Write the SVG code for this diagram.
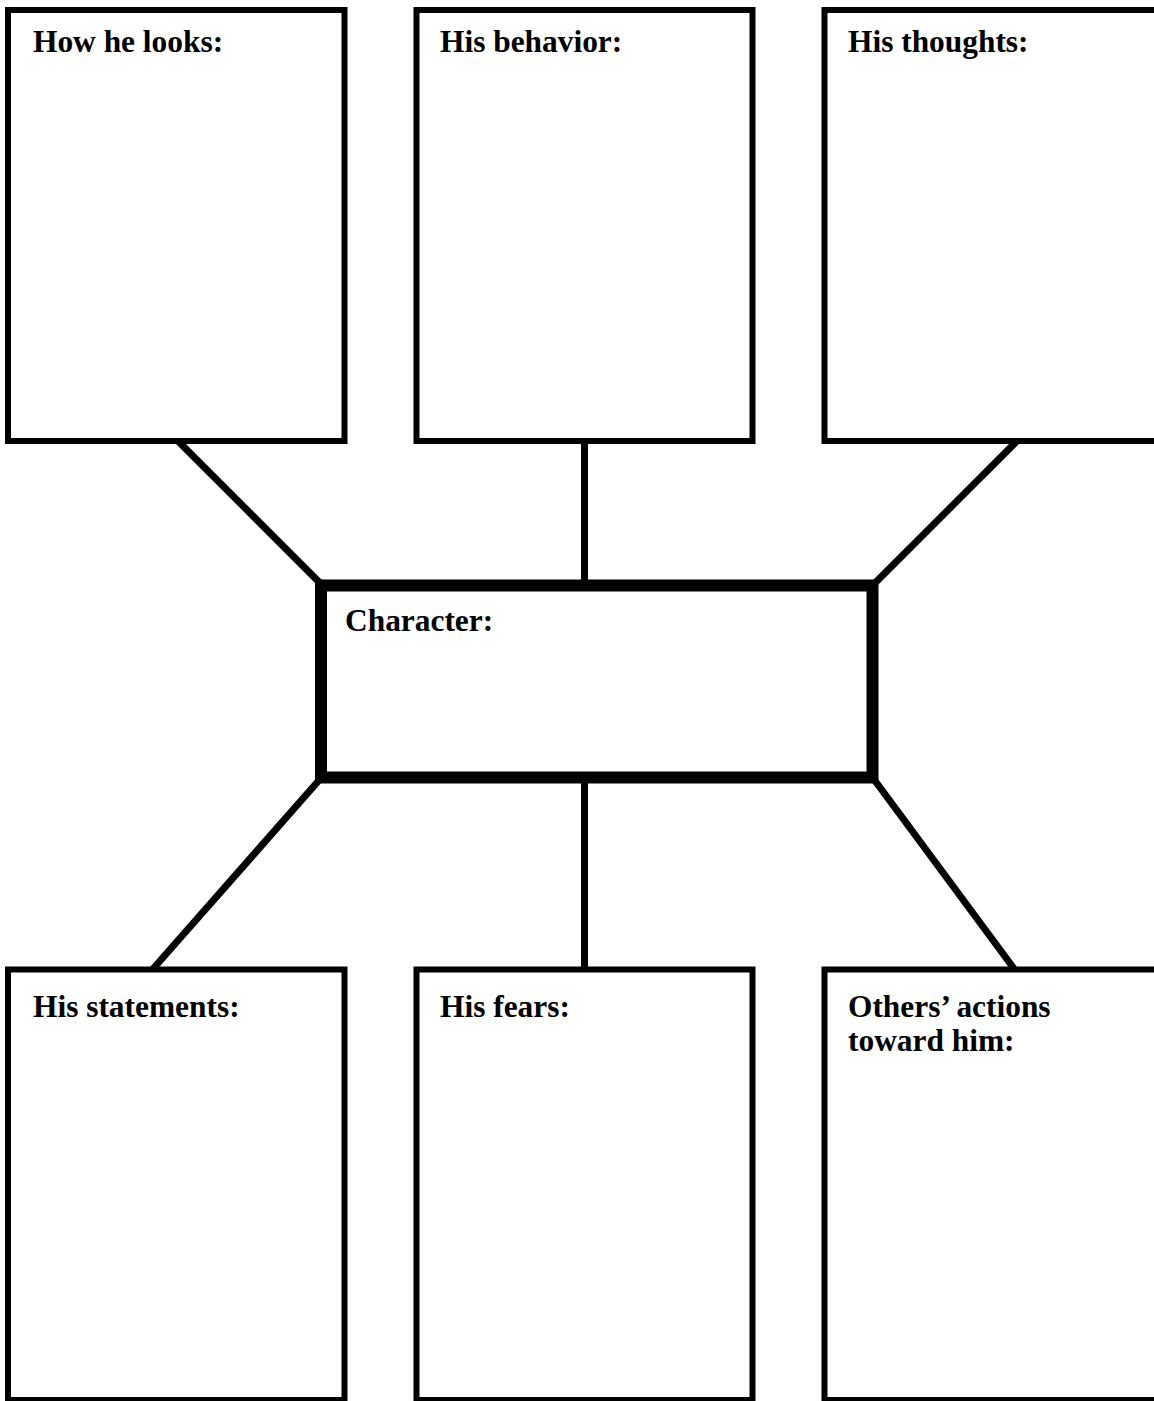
<svg xmlns="http://www.w3.org/2000/svg" width="1154" height="1401" viewBox="0 0 1154 1401">
<style>
.box{fill:#fff;stroke:#000;stroke-width:6}
.main{fill:#fff;stroke:#000;stroke-width:12}
.lbl{font-family:"Liberation Serif","Times New Roman",serif;font-weight:bold;font-size:31.4px;fill:#000}
.con line{stroke:#000;stroke-width:7;stroke-linecap:butt}
</style>
<rect width="1154" height="1401" fill="#fff"/>
<g class="con" id="connectors">
<line x1="178" y1="441" x2="322" y2="585"/>
<line x1="584.5" y1="441" x2="584.5" y2="585"/>
<line x1="1017" y1="441" x2="873" y2="585"/>
<line x1="321" y1="778" x2="152" y2="970"/>
<line x1="584.5" y1="778" x2="584.5" y2="970"/>
<line x1="873" y1="778" x2="1015" y2="970"/>
</g>
<g id="looks"><rect class="box" x="8" y="10" width="336.5" height="431"/><text class="lbl" x="33" y="52">How he looks:</text></g>
<g id="behavior"><rect class="box" x="416.5" y="10" width="336" height="431"/><text class="lbl" x="440" y="52">His behavior:</text></g>
<g id="thoughts"><rect class="box" x="824.5" y="10" width="340" height="431"/><text class="lbl" x="848" y="52">His thoughts:</text></g>
<g id="character"><rect class="main" x="321" y="585.5" width="551.5" height="192"/><text class="lbl" x="345" y="631">Character:</text></g>
<g id="statements"><rect class="box" x="8" y="969.5" width="336.5" height="430.5"/><text class="lbl" x="33" y="1017">His statements:</text></g>
<g id="fears"><rect class="box" x="416.5" y="969.5" width="336" height="430.5"/><text class="lbl" x="440" y="1017">His fears:</text></g>
<g id="others"><rect class="box" x="824.5" y="969.5" width="340" height="430.5"/><text class="lbl" x="848" y="1017">Others’ actions</text><text class="lbl" x="848" y="1051">toward him:</text></g>
</svg>
